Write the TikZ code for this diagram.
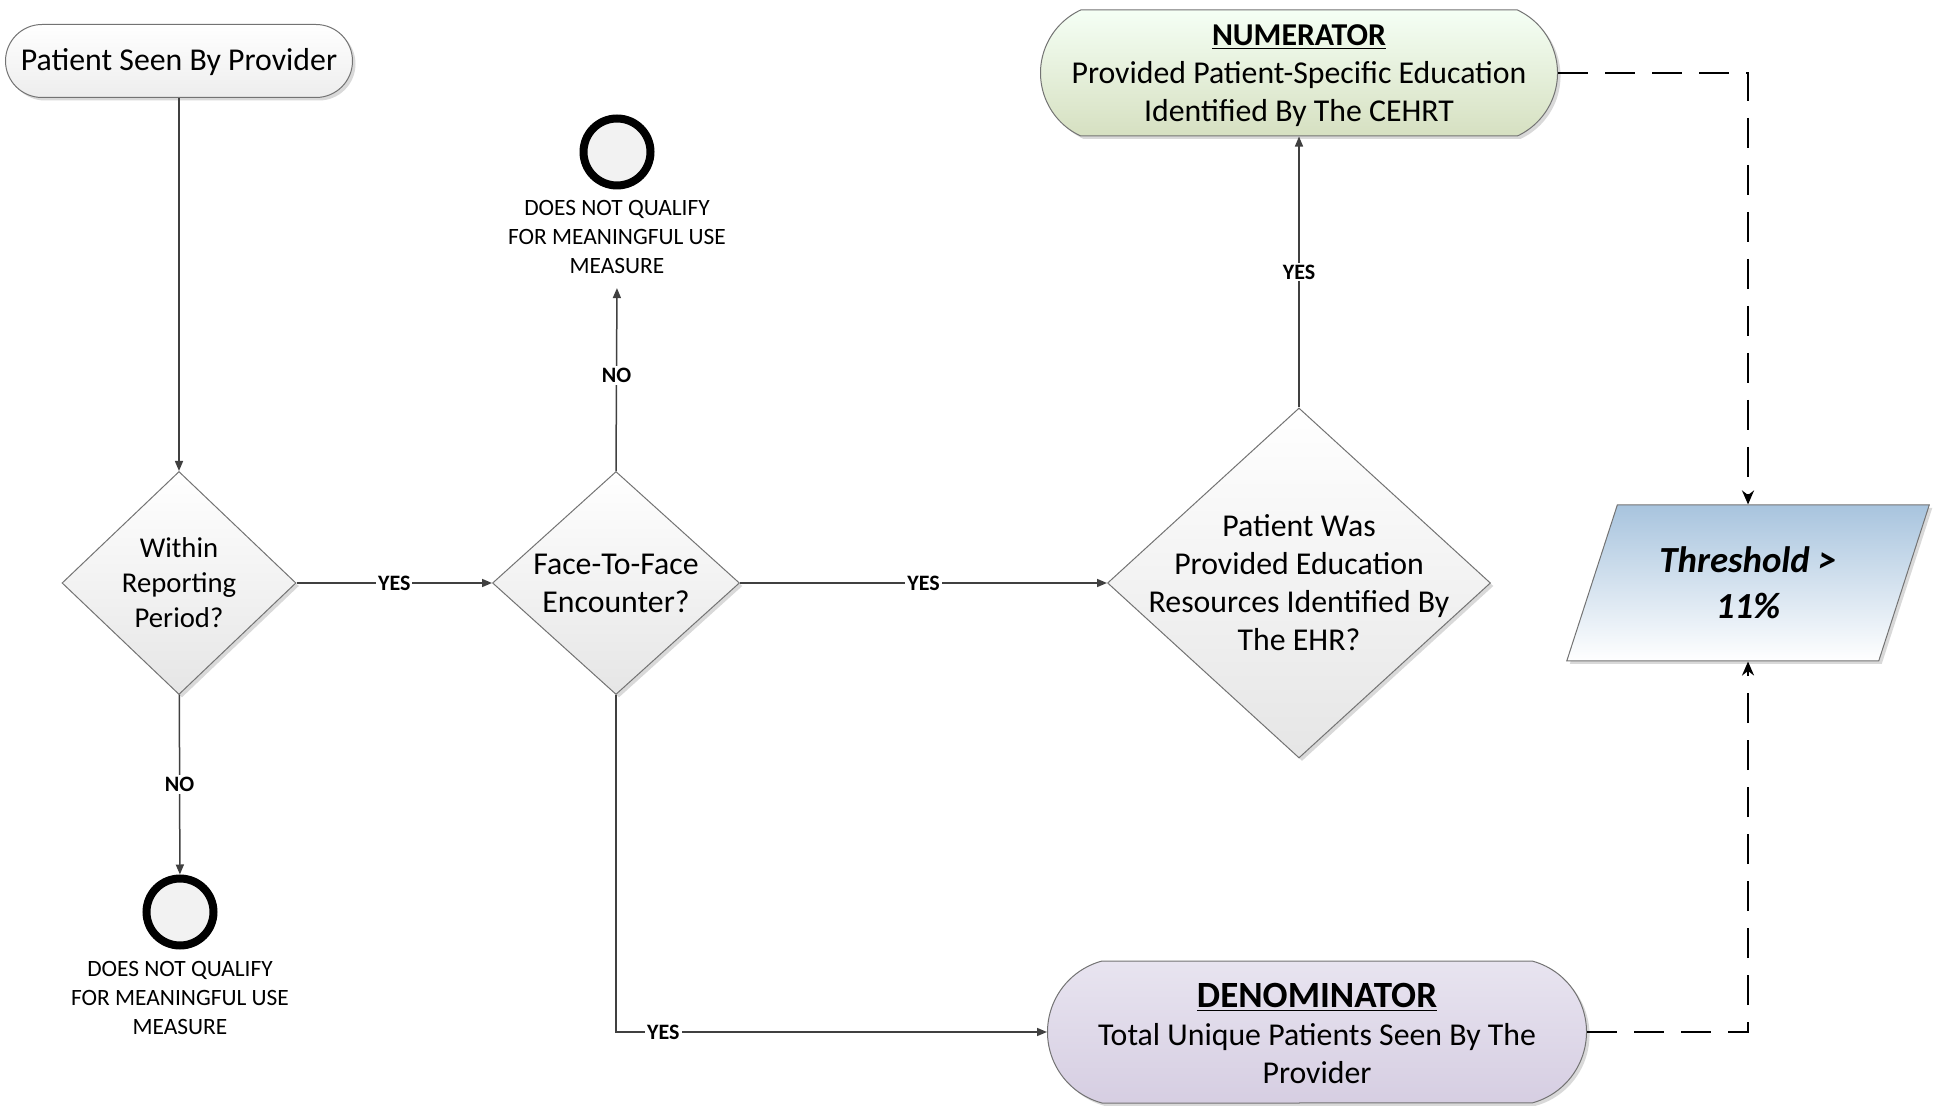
\documentclass[tikz,border=0pt]{standalone}
\usepackage{fontspec}
\setmainfont{Carlito}
\usepackage{tikz}
\usetikzlibrary{shapes.geometric,shapes.misc,arrows.meta,shadows}
\newcommand\zw[2][0pt]{\raisebox{-#1}[\height][\depth]{\makebox[0pt]{\begin{tabular}{@{}c@{}}#2\end{tabular}}}}

\begin{document}
\begin{tikzpicture}[x=0.5pt,y=-0.5pt,
  >={Triangle[length=5pt,width=4pt]},
  line/.style={draw=black!75,line width=0.75pt},
  dashline/.style={draw=black,line width=1.2pt,dash pattern=on 15pt off 8.5pt},
  boxshadow/.style={drop shadow={shadow xshift=1.5pt,shadow yshift=-1.5pt,opacity=0.25,fill=black!60}},
  mainfont/.style={font=\fontsize{15.9}{19}\selectfont},
  startbox/.style={rounded rectangle,draw=black!55,line width=0.5pt,top color=white,bottom color=black!7,
    boxshadow,mainfont,inner sep=0pt,minimum width=173.5pt,minimum height=36.5pt},
  decision/.style={diamond,draw=black!55,line width=0.5pt,top color=white,bottom color=black!10,
    boxshadow,align=center,mainfont,inner xsep=-40pt,inner ysep=-40pt},
  stopdot/.style={circle,draw=black,line width=4pt,fill=black!5,minimum size=33.5pt,inner sep=0pt},
  stoptext/.style={align=center,font=\fontsize{11.7}{14.5}\selectfont,inner sep=3pt},
  lbl/.style={fill=white,font=\bfseries\fontsize{11}{13}\selectfont,inner sep=1pt},
  resultbox/.style={rounded rectangle,draw=black!55,line width=0.5pt,boxshadow,mainfont,inner sep=0pt}
]
%\draw[help lines] (0,0)grid[step=100](1944,1106);
\useasboundingbox (0,0) rectangle (1944,1106);
\draw (179,61)coordinate(a)
      (179,583)coordinate(b)
      (616,583)coordinate(c)
      (1299,583)coordinate(d)
      (1299,73)coordinate(e)
      (1317,1032)coordinate(f)
      (1748,583)coordinate(g)
      (617,152)coordinate(h)
      (617,237)coordinate(i)
      (180,912)coordinate(j)
      (180,998)coordinate(k);
\draw (a)node[startbox](start){\zw[1pt]{Patient Seen By Provider}};
\draw (b)node[decision,minimum width=117pt,minimum height=111.5pt,font=\fontsize{14.35}{17.5}\selectfont](within){Within\\Reporting\\Period?};
\draw (c)node[decision,minimum width=123.5pt,minimum height=111.5pt](face){Face-To-Face\\Encounter?};
\draw (d)node[decision,minimum width=191.5pt,minimum height=175pt](educ){Patient Was\\Provided Education\\Resources Identified By\\The EHR?};
\draw (e)node[resultbox,top color=green!4!white,bottom color={rgb,255:red,214;green,224;blue,193},
  rounded rectangle arc length=130,minimum width=258.5pt,minimum height=63pt](num)
  {\zw[1.3pt]{\textbf{\underline{NUMERATOR}}\\Provided Patient-Specific Education\\Identified By The CEHRT}};
\draw (f)node[resultbox,top color={rgb,255:red,232;green,228;blue,240},bottom color={rgb,255:red,214;green,206;blue,226},
  rounded rectangle arc length=150,minimum width=269.5pt,minimum height=71pt](den)
  {\zw[3pt]{{\fontsize{18.5}{20}\selectfont\textbf{\underline{DENOMINATOR}}}\\Total Unique Patients Seen By The\\Provider}};
\draw (g)node[trapezium,trapezium left angle=64.6,trapezium right angle=115.4,trapezium stretches=true,
  draw=black!55,line width=0.5pt,top color={rgb,255:red,168;green,196;blue,222},bottom color=white,boxshadow,
  align=center,inner sep=0pt,minimum width=181.5pt,minimum height=78pt,
  font=\bfseries\itshape\fontsize{18.4}{23}\selectfont](thr){Threshold >\\11\%};
\draw (h)node[stopdot](stopb){};
\draw (i)node[stoptext](stopbtxt){DOES NOT QUALIFY\\FOR MEANINGFUL USE\\MEASURE};
\draw (j)node[stopdot](stopa){};
\draw (k)node[stoptext](stopatxt){DOES NOT QUALIFY\\FOR MEANINGFUL USE\\MEASURE};
\draw[line,->](start)--(within);
\draw[line,->](within)--node[lbl,pos=0.5]{YES}(face);
\draw[line,->](within)--node[lbl,pos=0.5]{NO}(stopa);
\draw[line,->,shorten >=4pt](face.north)--node[lbl,pos=0.5]{NO}(stopbtxt.south);
\draw[line,->](face)--node[lbl,pos=0.5]{YES}(educ);
\draw[line,->](educ)--node[lbl,pos=0.5]{YES}(num);
\draw[line,->](face.south)|-node[lbl,pos=0.555]{YES}(den.west);
\draw[dashline,-{Stealth[length=7pt,width=6pt]}](num.east)-|(thr.north);
\draw[dashline,-{Stealth[length=7pt,width=6pt]}](den.east)-|(thr.south);
\end{tikzpicture}
\end{document}
